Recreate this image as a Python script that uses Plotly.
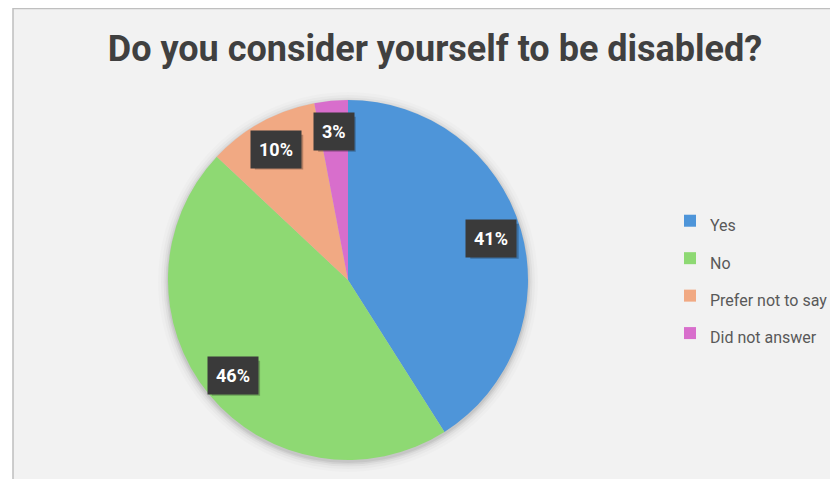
import math
import plotly.graph_objects as go

# ---- data ----
CATEGORIES = ["Yes", "No", "Prefer not to say", "Did not answer"]
PERCENTAGES = [41, 46, 10, 3]
COLORS = ["#4E95D9", "#8ED973", "#F1A983", "#D86ECC"]
TITLE = "Do you consider yourself to be disabled?"

# ---- layout constants (pixels in the 838x479 window) ----
WIN_W, WIN_H = 838, 479
OFF = 8                             # default page margin of the html body
W, H = WIN_W - OFF, WIN_H - OFF     # figure size
CX, CY, R = 348, 280, 180           # pie centre / radius (window px)
LABEL_FRAC = 0.83                   # radial position of the data labels
LABEL_FONT = 18
LABEL_PAD = 8


def px_x(x):
    return (x - OFF) / W


def px_y(y):
    return 1 - (y - OFF) / H


fig = go.Figure()

# chart area frame
fig.add_shape(type="rect", xref="paper", yref="paper",
              x0=px_x(13), x1=1.05, y0=-0.05, y1=px_y(8.5),
              fillcolor="#F2F2F2", line=dict(color="#BFBFBF", width=1.5),
              layer="below")

# soft shadow behind the pie
for grow, op in [(10, 0.015), (7, 0.025), (4.5, 0.035), (2.5, 0.05), (1, 0.06)]:
    fig.add_shape(type="circle", xref="paper", yref="paper",
                  x0=px_x(CX - R - grow), x1=px_x(CX + R + grow),
                  y0=px_y(CY + R + grow + 2), y1=px_y(CY - R - grow + 2),
                  fillcolor="black", opacity=op, line_width=0, layer="below")

fig.add_trace(go.Pie(
    labels=[f'<span style="font-size:16px">{c}</span>' for c in CATEGORIES],
    values=PERCENTAGES,
    marker=dict(colors=COLORS, line=dict(width=0)),
    sort=False,
    direction="clockwise",
    rotation=0,
    textinfo="none",
    hoverinfo="percent",
    domain=dict(x=[px_x(CX - R), px_x(CX + R)], y=[px_y(CY + R), px_y(CY - R)]),
))

# data labels (dark boxes) placed at each slice's mid-angle
total = sum(PERCENTAGES)
cum = 0
for v in PERCENTAGES:
    mid = (cum + v / 2) / total * 2 * math.pi
    cum += v
    lx = CX + R * LABEL_FRAC * math.sin(mid)
    ly = CY - R * LABEL_FRAC * math.cos(mid)
    label = f"{round(v / total * 100)}%"
    # drop shadow of the label box
    bw = 0.6 * LABEL_FONT * len(label) + 2 * LABEL_PAD
    bh = 1.05 * LABEL_FONT + 2 * LABEL_PAD
    fig.add_shape(type="rect", xref="paper", yref="paper",
                  x0=px_x(lx - bw / 2 + 3), x1=px_x(lx + bw / 2 + 3),
                  y0=px_y(ly + bh / 2 + 3), y1=px_y(ly - bh / 2 + 3),
                  fillcolor="rgba(0,0,0,0.25)", line_width=0, layer="above")
    fig.add_annotation(x=px_x(lx), y=px_y(ly), xref="paper", yref="paper",
                       xanchor="center", yanchor="middle", showarrow=False,
                       text=f"<b>{label}</b>", borderpad=LABEL_PAD,
                       font=dict(family="Roboto", size=LABEL_FONT, color="white"),
                       bgcolor="#3A3A3A")

fig.update_layout(
    width=W, height=H,
    margin=dict(l=0, r=0, t=0, b=0),
    paper_bgcolor="white",
    plot_bgcolor="white",
    title=dict(text=f"<b>{TITLE}</b>", x=px_x(435), xanchor="center",
               y=px_y(48), yanchor="middle", yref="container",
               font=dict(family="Roboto", size=36, color="#404040")),
    legend=dict(x=px_x(670), y=px_y(277), xanchor="left", yanchor="middle",
                font=dict(family="Roboto", size=26.5, color="#595959"),
                bgcolor="rgba(0,0,0,0)"),
)

fig.write_html("out.html")
